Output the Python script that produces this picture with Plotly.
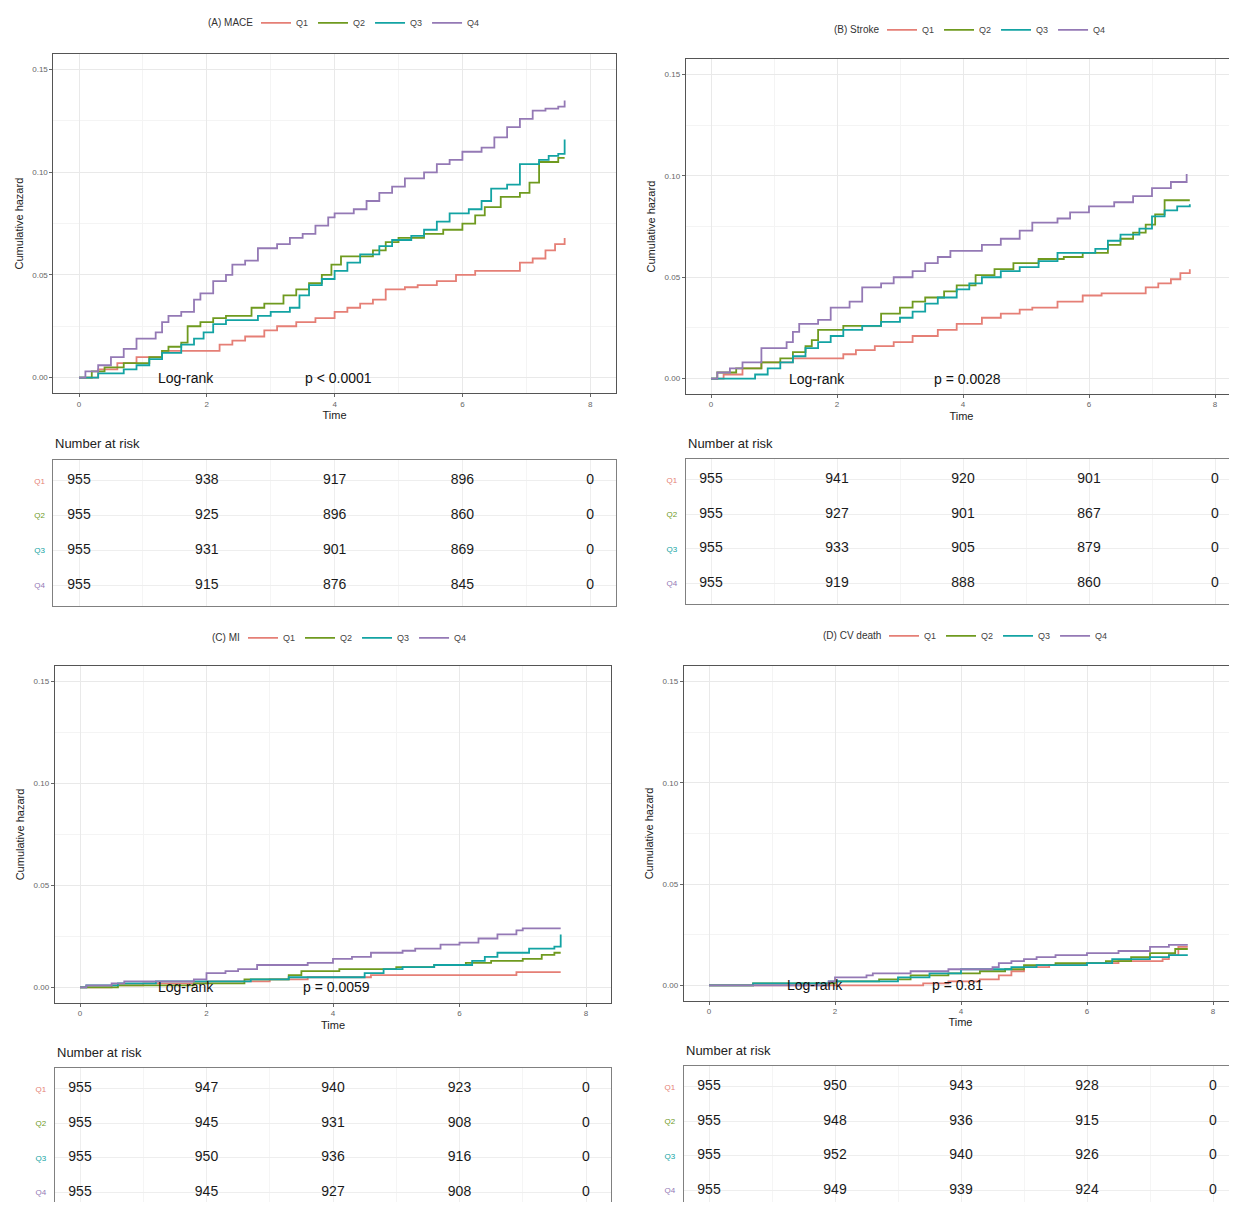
import plotly.graph_objects as go

# ---------------- data ----------------
QUARTILES = ["Q1", "Q2", "Q3", "Q4"]
RISK_TIMES = [0, 2, 4, 6, 8]

# (A) MACE
MACE_Q1_T = [0, 0.3, 0.6, 0.9, 1.3, 2.2, 2.4, 2.6, 2.9, 3.1, 3.4, 3.7, 4.0, 4.2, 4.4, 4.6, 4.8, 5.1, 5.3, 5.6, 5.9, 6.2, 6.9, 7.1, 7.3, 7.45, 7.6]
MACE_Q1_H = [0, 0.004, 0.007, 0.010, 0.013, 0.016, 0.018, 0.020, 0.023, 0.025, 0.027, 0.029, 0.032, 0.034, 0.036, 0.038, 0.043, 0.044, 0.045, 0.047, 0.050, 0.052, 0.056, 0.058, 0.062, 0.065, 0.068]
MACE_Q2_T = [0, 0.2, 0.4, 0.7, 1.1, 1.3, 1.4, 1.6, 1.7, 1.9, 2.1, 2.3, 2.7, 2.9, 3.2, 3.4, 3.6, 3.8, 3.95, 4.1, 4.6, 4.8, 5.0, 5.4, 5.7, 6.0, 6.2, 6.35, 6.6, 6.9, 7.05, 7.2, 7.5, 7.6]
MACE_Q2_H = [0, 0.003, 0.005, 0.007, 0.010, 0.013, 0.015, 0.017, 0.025, 0.027, 0.029, 0.030, 0.034, 0.036, 0.040, 0.043, 0.046, 0.050, 0.055, 0.059, 0.062, 0.066, 0.068, 0.070, 0.072, 0.075, 0.079, 0.083, 0.088, 0.090, 0.095, 0.105, 0.107, 0.107]
MACE_Q3_T = [0, 0.3, 0.7, 0.9, 1.1, 1.3, 1.6, 1.8, 1.95, 2.1, 2.3, 2.8, 3.0, 3.3, 3.45, 3.6, 3.8, 4.0, 4.2, 4.4, 4.7, 4.9, 5.2, 5.4, 5.6, 5.8, 6.1, 6.3, 6.45, 6.7, 6.9, 7.2, 7.35, 7.5, 7.6]
MACE_Q3_H = [0, 0.002, 0.004, 0.006, 0.009, 0.012, 0.016, 0.019, 0.022, 0.026, 0.028, 0.030, 0.032, 0.034, 0.040, 0.045, 0.048, 0.052, 0.056, 0.060, 0.064, 0.067, 0.069, 0.072, 0.076, 0.080, 0.082, 0.086, 0.092, 0.094, 0.104, 0.106, 0.108, 0.109, 0.116]
MACE_Q4_T = [0, 0.1, 0.3, 0.5, 0.7, 0.9, 1.2, 1.3, 1.4, 1.6, 1.8, 1.9, 2.1, 2.3, 2.4, 2.6, 2.8, 3.1, 3.3, 3.5, 3.7, 3.9, 4.0, 4.3, 4.5, 4.7, 4.9, 5.1, 5.4, 5.6, 5.8, 6.0, 6.3, 6.5, 6.7, 6.9, 7.1, 7.3, 7.5, 7.6]
MACE_Q4_H = [0, 0.003, 0.006, 0.010, 0.014, 0.019, 0.022, 0.027, 0.030, 0.032, 0.038, 0.041, 0.047, 0.050, 0.055, 0.057, 0.063, 0.065, 0.068, 0.070, 0.074, 0.078, 0.080, 0.082, 0.086, 0.090, 0.093, 0.097, 0.100, 0.104, 0.106, 0.110, 0.112, 0.117, 0.122, 0.126, 0.130, 0.131, 0.132, 0.135]
MACE_RISK_Q1 = [955, 938, 917, 896, 0]
MACE_RISK_Q2 = [955, 925, 896, 860, 0]
MACE_RISK_Q3 = [955, 931, 901, 869, 0]
MACE_RISK_Q4 = [955, 915, 876, 845, 0]

# (B) Stroke
STROKE_Q1_T = [0, 0.2, 0.5, 0.8, 1.3, 2.1, 2.3, 2.6, 2.9, 3.2, 3.6, 3.9, 4.3, 4.6, 4.9, 5.1, 5.5, 5.9, 6.2, 6.9, 7.1, 7.3, 7.45, 7.6]
STROKE_Q1_H = [0, 0.002, 0.005, 0.008, 0.010, 0.012, 0.014, 0.016, 0.018, 0.021, 0.024, 0.027, 0.030, 0.032, 0.034, 0.035, 0.038, 0.041, 0.042, 0.045, 0.047, 0.049, 0.052, 0.054]
STROKE_Q2_T = [0, 0.1, 0.4, 0.8, 1.1, 1.3, 1.5, 1.6, 1.7, 2.1, 2.7, 3.0, 3.2, 3.4, 3.7, 3.9, 4.2, 4.5, 4.8, 5.2, 5.6, 5.9, 6.3, 6.5, 6.7, 6.9, 7.05, 7.2, 7.6]
STROKE_Q2_H = [0, 0.003, 0.005, 0.008, 0.010, 0.013, 0.016, 0.019, 0.024, 0.026, 0.032, 0.035, 0.038, 0.040, 0.043, 0.046, 0.051, 0.054, 0.057, 0.059, 0.060, 0.062, 0.066, 0.069, 0.072, 0.076, 0.081, 0.088, 0.088]
STROKE_Q3_T = [0, 0.7, 0.9, 1.1, 1.3, 1.5, 1.7, 1.9, 2.1, 2.4, 2.7, 3.0, 3.2, 3.4, 3.6, 3.9, 4.1, 4.3, 4.6, 4.9, 5.2, 5.5, 6.1, 6.3, 6.5, 6.8, 7.0, 7.2, 7.4, 7.6]
STROKE_Q3_H = [0, 0.002, 0.005, 0.008, 0.011, 0.015, 0.018, 0.021, 0.024, 0.026, 0.028, 0.030, 0.033, 0.037, 0.040, 0.044, 0.047, 0.050, 0.053, 0.055, 0.058, 0.062, 0.064, 0.068, 0.071, 0.074, 0.080, 0.083, 0.085, 0.086]
STROKE_Q4_T = [0, 0.1, 0.3, 0.5, 0.8, 1.2, 1.3, 1.4, 1.7, 1.9, 2.2, 2.4, 2.7, 2.9, 3.2, 3.4, 3.6, 3.8, 4.3, 4.6, 4.9, 5.1, 5.5, 5.7, 6.0, 6.4, 6.7, 7.0, 7.3, 7.55]
STROKE_Q4_H = [0, 0.003, 0.005, 0.008, 0.015, 0.018, 0.023, 0.027, 0.029, 0.035, 0.038, 0.045, 0.047, 0.050, 0.053, 0.057, 0.060, 0.063, 0.066, 0.069, 0.073, 0.077, 0.079, 0.082, 0.085, 0.087, 0.090, 0.094, 0.097, 0.101]
STROKE_RISK_Q1 = [955, 941, 920, 901, 0]
STROKE_RISK_Q2 = [955, 927, 901, 867, 0]
STROKE_RISK_Q3 = [955, 933, 905, 879, 0]
STROKE_RISK_Q4 = [955, 919, 888, 860, 0]

# (C) MI
MI_Q1_T = [0, 0.5, 1.0, 2.0, 3.0, 3.6, 4.6, 6.9, 7.6]
MI_Q1_H = [0, 0.001, 0.002, 0.003, 0.004, 0.005, 0.006, 0.0075, 0.0075]
MI_Q2_T = [0, 0.6, 1.8, 2.6, 3.3, 3.5, 4.1, 5.0, 5.6, 6.1, 6.5, 7.0, 7.3, 7.5, 7.6]
MI_Q2_H = [0, 0.001, 0.002, 0.004, 0.006, 0.008, 0.009, 0.010, 0.011, 0.012, 0.013, 0.014, 0.016, 0.017, 0.017]
MI_Q3_T = [0, 0.1, 0.6, 1.2, 2.7, 3.3, 4.5, 4.8, 5.1, 5.6, 6.2, 6.4, 6.6, 7.1, 7.5, 7.6]
MI_Q3_H = [0, 0.001, 0.002, 0.003, 0.004, 0.005, 0.007, 0.009, 0.010, 0.011, 0.013, 0.015, 0.017, 0.019, 0.020, 0.026]
MI_Q4_T = [0, 0.1, 0.5, 0.7, 1.8, 2.0, 2.3, 2.5, 2.8, 3.6, 4.0, 4.3, 4.6, 5.1, 5.3, 5.7, 6.0, 6.3, 6.6, 6.9, 7.0, 7.6]
MI_Q4_H = [0, 0.001, 0.002, 0.003, 0.004, 0.007, 0.008, 0.009, 0.011, 0.012, 0.014, 0.015, 0.017, 0.018, 0.019, 0.021, 0.022, 0.024, 0.026, 0.028, 0.029, 0.029]
MI_RISK_Q1 = [955, 947, 940, 923, 0]
MI_RISK_Q2 = [955, 945, 931, 908, 0]
MI_RISK_Q3 = [955, 950, 936, 916, 0]
MI_RISK_Q4 = [955, 945, 927, 908, 0]

# (D) CV death
CVD_Q1_T = [0, 3.4, 3.8, 4.3, 4.6, 4.8, 5.0, 5.4, 6.0, 6.5, 7.2, 7.3, 7.45, 7.6]
CVD_Q1_H = [0, 0.001, 0.002, 0.003, 0.005, 0.007, 0.009, 0.010, 0.011, 0.012, 0.013, 0.015, 0.019, 0.019]
CVD_Q2_T = [0, 0.7, 2.0, 2.7, 3.2, 3.8, 4.3, 4.7, 5.0, 5.5, 6.3, 6.7, 7.0, 7.4, 7.6]
CVD_Q2_H = [0, 0.001, 0.002, 0.003, 0.005, 0.006, 0.007, 0.008, 0.010, 0.011, 0.012, 0.014, 0.016, 0.018, 0.018]
CVD_Q3_T = [0, 0.7, 1.9, 3.0, 3.5, 4.0, 4.8, 5.2, 6.0, 6.4, 7.0, 7.3, 7.6]
CVD_Q3_H = [0, 0.001, 0.002, 0.004, 0.006, 0.008, 0.009, 0.010, 0.011, 0.013, 0.014, 0.015, 0.015]
CVD_Q4_T = [0, 1.9, 2.0, 2.5, 2.6, 3.2, 3.8, 4.5, 4.6, 4.8, 5.0, 5.2, 5.5, 6.0, 6.5, 7.0, 7.3, 7.6]
CVD_Q4_H = [0, 0.002, 0.004, 0.005, 0.006, 0.007, 0.008, 0.009, 0.011, 0.012, 0.013, 0.014, 0.015, 0.016, 0.017, 0.019, 0.020, 0.020]
CVD_RISK_Q1 = [955, 950, 943, 928, 0]
CVD_RISK_Q2 = [955, 948, 936, 915, 0]
CVD_RISK_Q3 = [955, 952, 940, 926, 0]
CVD_RISK_Q4 = [955, 949, 939, 924, 0]

PANEL_TITLES = ["(A) MACE", "(B) Stroke", "(C) MI", "(D) CV death"]
P_TEXTS = ["p < 0.0001", "p = 0.0028", "p = 0.0059", "p = 0.81"]

CURVES = [
    [(MACE_Q1_T, MACE_Q1_H), (MACE_Q2_T, MACE_Q2_H), (MACE_Q3_T, MACE_Q3_H), (MACE_Q4_T, MACE_Q4_H)],
    [(STROKE_Q1_T, STROKE_Q1_H), (STROKE_Q2_T, STROKE_Q2_H), (STROKE_Q3_T, STROKE_Q3_H), (STROKE_Q4_T, STROKE_Q4_H)],
    [(MI_Q1_T, MI_Q1_H), (MI_Q2_T, MI_Q2_H), (MI_Q3_T, MI_Q3_H), (MI_Q4_T, MI_Q4_H)],
    [(CVD_Q1_T, CVD_Q1_H), (CVD_Q2_T, CVD_Q2_H), (CVD_Q3_T, CVD_Q3_H), (CVD_Q4_T, CVD_Q4_H)],
]
RISKS = [
    [MACE_RISK_Q1, MACE_RISK_Q2, MACE_RISK_Q3, MACE_RISK_Q4],
    [STROKE_RISK_Q1, STROKE_RISK_Q2, STROKE_RISK_Q3, STROKE_RISK_Q4],
    [MI_RISK_Q1, MI_RISK_Q2, MI_RISK_Q3, MI_RISK_Q4],
    [CVD_RISK_Q1, CVD_RISK_Q2, CVD_RISK_Q3, CVD_RISK_Q4],
]

# ---------------- styling / layout ----------------
COLORS = ["#E57F76", "#6F9A1F", "#13A3A3", "#9479B5"]
FONT = "Liberation Sans, Arial, sans-serif"
PAGE_W, PAGE_H = 1237, 1210
OFF = 8                      # default body margin of the html page
W = PAGE_W - OFF
H = PAGE_H - 2 * OFF         # keep page height within the window (top+bottom margin)
VIS_BOTTOM = OFF + H         # last visible page row of the figure

# pixel geometry (page coordinates) per panel
GEOM = [
    dict(x0=79, ux=63.9, y00=372, y15=62, r1=476, rs=35.0, lgx=256, lgy=15, nx=53, ny=438),
    dict(x0=711, ux=63.0, y00=373, y15=67, r1=475, rs=34.7, lgx=882, lgy=22, nx=686, ny=438),
    dict(x0=80, ux=63.25, y00=986, y15=678, r1=1088, rs=34.7, lgx=243, lgy=634, nx=55, ny=1051),
    dict(x0=709, ux=63.0, y00=984, y15=678, r1=1086, rs=34.7, lgx=884, lgy=632, nx=684, ny=1049),
]

GRID = "#E9E9E9"
MINOR = "#F4F4F4"

fig = go.Figure()
layout = dict(
    width=W, height=H, margin=dict(l=0, r=0, t=0, b=0),
    paper_bgcolor="white", plot_bgcolor="white",
    font=dict(family=FONT, color="#333"),
    annotations=[],
)

def clamp(v):
    return max(0.0, min(1.0, v))

def fx(px):  # page px -> paper fraction
    return (px - OFF) / W

def fy(py):
    return 1 - (py - OFF) / H

for i in range(4):
    g = GEOM[i]
    xa_plot = 2 * i + 1
    xa_tab = 2 * i + 2
    xk_p = "x" if xa_plot == 1 else f"x{xa_plot}"
    yk_p = "y" if xa_plot == 1 else f"y{xa_plot}"
    xk_t = f"x{xa_tab}"
    yk_t = f"y{xa_tab}"
    legend_key = "legend" if i == 0 else f"legend{i + 1}"

    left_px = g["x0"] - 0.4 * g["ux"]
    right_px = min(PAGE_W, g["x0"] + 8.4 * g["ux"])
    xr = [(left_px - g["x0"]) / g["ux"], (right_px - g["x0"]) / g["ux"]]
    xdom = [clamp(fx(left_px)), clamp(fx(right_px))]

    uy = (g["y00"] - g["y15"]) / 0.15
    top_px = g["y15"] - 0.0075 * uy
    bot_px = g["y00"] + 0.0075 * uy
    ydom = [clamp(fy(bot_px)), clamp(fy(top_px))]

    for q in range(4):
        t, h = CURVES[i][q]
        fig.add_trace(go.Scatter(
            x=t, y=h, mode="lines", name=QUARTILES[q],
            line=dict(shape="hv", width=1.8, color=COLORS[q]),
            xaxis=xk_p, yaxis=yk_p, legend=legend_key, showlegend=True,
            hoverinfo="skip",
        ))

    rs = g["rs"]
    t_top = g["r1"] - 0.6 * rs
    t_bot = min(VIS_BOTTOM, g["r1"] + 3.6 * rs)
    ytr = [4 - (t_bot - g["r1"]) / rs, 4 + 0.6]
    ytdom = [clamp(fy(t_bot)), clamp(fy(t_top))]
    for q in range(4):
        fig.add_trace(go.Scatter(
            x=RISK_TIMES, y=[4 - q] * len(RISK_TIMES), mode="text",
            text=[str(v) for v in RISKS[i][q]],
            textfont=dict(size=14, color="#1a1a1a", family=FONT),
            textposition="middle center",
            xaxis=xk_t, yaxis=yk_t, showlegend=False, hoverinfo="skip",
        ))

    axkey_p = "xaxis" if xa_plot == 1 else f"xaxis{xa_plot}"
    aykey_p = "yaxis" if xa_plot == 1 else f"yaxis{xa_plot}"
    layout[axkey_p] = dict(
        domain=xdom, range=xr, anchor=yk_p, tickvals=[0, 2, 4, 6, 8],
        ticks="outside", ticklen=3, tickcolor="#666", tickwidth=1,
        tickfont=dict(size=8, color="#666"),
        showgrid=True, gridcolor=GRID, gridwidth=1, zeroline=False,
        minor=dict(dtick=1, tick0=0, showgrid=True, gridcolor=MINOR, gridwidth=0.8),
        showline=True, linecolor="#555", linewidth=1, mirror=True,
        title=dict(text="Time", font=dict(size=11, color="#222"), standoff=3),
    )
    layout[aykey_p] = dict(
        domain=ydom, range=[-0.0075, 0.1575], anchor=xk_p,
        tickvals=[0, 0.05, 0.10, 0.15], ticktext=["0.00", "0.05", "0.10", "0.15"],
        ticks="outside", ticklen=3, tickcolor="#666", tickwidth=1,
        tickfont=dict(size=8, color="#666"),
        showgrid=True, gridcolor=GRID, gridwidth=1, zeroline=False,
        minor=dict(dtick=0.025, tick0=0, showgrid=True, gridcolor=MINOR, gridwidth=0.8),
        showline=True, linecolor="#555", linewidth=1, mirror=True,
        title=dict(text="Cumulative hazard", font=dict(size=11, color="#222"), standoff=6),
    )
    layout[f"xaxis{xa_tab}"] = dict(
        domain=xdom, range=xr, anchor=yk_t, tickvals=[0, 2, 4, 6, 8],
        showticklabels=False, ticks="",
        showgrid=True, gridcolor="#EEEEEE", gridwidth=1, zeroline=False,
        minor=dict(dtick=1, tick0=0, showgrid=True, gridcolor="#F5F5F5", gridwidth=0.8),
        showline=True, linecolor="#808080", linewidth=1, mirror=True,
    )
    layout[f"yaxis{xa_tab}"] = dict(
        domain=ytdom, range=ytr, anchor=xk_t, tickvals=[4, 3, 2, 1],
        ticktext=[f'<span style="color:{COLORS[q]}">{QUARTILES[q]}</span>' for q in range(4)],
        ticks="", tickfont=dict(size=8), ticklabelstandoff=6,
        showgrid=True, gridcolor="#EEEEEE", gridwidth=1, zeroline=False,
        showline=True, linecolor="#808080", linewidth=1, mirror=True,
    )

    # legend (items) + its title as text to the left of it
    layout[legend_key] = dict(
        orientation="h", x=fx(g["lgx"]), xanchor="left", y=fy(g["lgy"]), yanchor="middle",
        font=dict(size=9, color="#444"), bgcolor="rgba(0,0,0,0)",
        itemwidth=30, tracegroupgap=0, borderwidth=0,
    )
    layout["annotations"].append(dict(
        x=fx(g["lgx"] - 1), y=fy(g["lgy"]), xref="paper", yref="paper",
        text=PANEL_TITLES[i], showarrow=False, xanchor="right", yanchor="middle",
        font=dict(size=10, color="#333", family=FONT),
    ))

    layout["annotations"].append(dict(
        x=1.2, y=0, xref=xk_p, yref=yk_p, text="Log-rank", showarrow=False,
        xanchor="left", yanchor="middle", font=dict(size=14, color="#111", family=FONT),
    ))
    layout["annotations"].append(dict(
        x=3.5, y=0, xref=xk_p, yref=yk_p, text=P_TEXTS[i], showarrow=False,
        xanchor="left", yanchor="middle", font=dict(size=14, color="#111", family=FONT),
    ))
    layout["annotations"].append(dict(
        x=fx(g["nx"]), y=fy(g["ny"]), xref="paper", yref="paper",
        text="Number at risk", showarrow=False, xanchor="left", yanchor="middle",
        font=dict(size=13, color="#222", family=FONT),
    ))

fig.update_layout(**layout)
fig.write_html("out.html")
